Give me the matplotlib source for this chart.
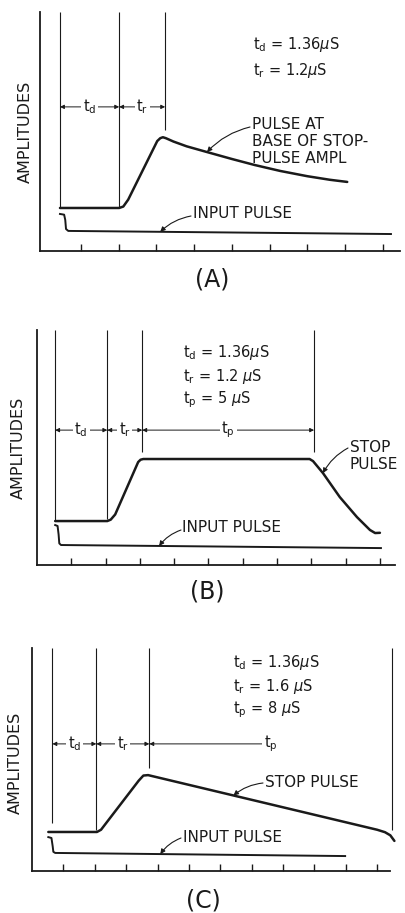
import numpy as np
import matplotlib.pyplot as plt

W, H = 406, 913
ink = "#1a1a1a"

# time in scale divisions, amplitude 0-10 (top of the axis)
a_stop_x = [0.44, 2.01, 2.12, 2.25, 3.02, 3.10, 3.17, 3.25, 3.45, 3.80, 4.34, 5.00, 5.60, 6.28, 7.00, 7.60, 8.06]
a_stop_y = [1.80, 1.80, 1.86, 2.15, 4.60, 4.72, 4.76, 4.72, 4.58, 4.38, 4.14, 3.85, 3.60, 3.35, 3.13, 2.98, 2.89]
a_input_x = [0.44, 0.55, 0.58, 0.60, 0.66, 9.22]
a_input_y = [1.55, 1.52, 1.30, 0.92, 0.84, 0.71]
a_guides_x = [0.44, 2.01, 3.23]
a_guides_bottom = [1.80, 1.80, 5.06]
a_params = [r"t$_{\rm d}$ = 1.36$\mu$S", r"t$_{\rm r}$ = 1.2$\mu$S"]

b_stop_x = [0.53, 2.05, 2.15, 2.28, 2.95, 3.02, 3.10, 7.95, 8.05, 8.34, 8.83, 9.33, 9.71, 9.86, 10.00]
b_stop_y = [1.87, 1.87, 1.93, 2.15, 4.38, 4.48, 4.51, 4.51, 4.42, 3.91, 2.89, 2.04, 1.49, 1.36, 1.37]
b_input_x = [0.53, 0.60, 0.63, 0.65, 0.70, 10.03]
b_input_y = [1.70, 1.66, 1.30, 0.92, 0.85, 0.72]
b_guides_x = [0.53, 2.05, 3.07, 8.08]
b_guides_bottom = [1.87, 1.95, 4.80, 4.80]
b_params = [r"t$_{\rm d}$ = 1.36$\mu$S", r"t$_{\rm r}$ = 1.2 $\mu$S", r"t$_{\rm p}$ = 5 $\mu$S"]

c_stop_x = [0.52, 2.07, 2.20, 3.40, 3.55, 3.70, 11.00, 11.25, 11.42, 11.55]
c_stop_y = [1.75, 1.75, 1.85, 4.05, 4.28, 4.30, 1.85, 1.74, 1.60, 1.35]
c_input_x = [0.52, 0.62, 0.66, 0.68, 0.74, 9.98]
c_input_y = [1.52, 1.48, 1.10, 0.86, 0.81, 0.67]
c_guides_x = [0.65, 2.05, 3.74, 11.48]
c_guides_bottom = [2.15, 1.84, 4.62, 1.84]
c_params = [r"t$_{\rm d}$ = 1.36$\mu$S", r"t$_{\rm r}$ = 1.6 $\mu$S", r"t$_{\rm p}$ = 8 $\mu$S"]

span_labels = [r"t$_{\rm d}$", r"t$_{\rm r}$", r"t$_{\rm p}$"]


def fpx(x, y):
    return (x / W, 1 - y / H)


def add_ax(fig, left, top, right, bottom, xlim, nticks):
    ax = fig.add_axes([left / W, 1 - bottom / H, (right - left) / W, (bottom - top) / H])
    ax.set_xlim(*xlim)
    ax.set_ylim(0, 10)
    ax.set_xticks(range(1, nticks + 1))
    ax.set_yticks([])
    ax.tick_params(axis="x", direction="in", length=5, width=1, color=ink, labelbottom=False)
    for s in ["top", "right"]:
        ax.spines[s].set_visible(False)
    for s in ["left", "bottom"]:
        ax.spines[s].set_linewidth(1.3)
        ax.spines[s].set_color(ink)
    ax.patch.set_alpha(0)
    return ax


def draw_panel(ax, stop_x, stop_y, input_x, input_y, guides_x, guides_bottom, dim_y):
    ax.plot(stop_x, stop_y, color=ink, lw=1.8, solid_capstyle="round", solid_joinstyle="round",
            clip_on=False)
    ax.plot(input_x, input_y, color=ink, lw=1.4, solid_joinstyle="round", clip_on=False)
    ax.vlines(guides_x, guides_bottom, 10, color=ink, lw=0.8, clip_on=False)
    for i in range(len(guides_x) - 1):
        a, b = guides_x[i], guides_x[i + 1]
        m = (a + b) / 2
        for end in (a, b):
            ax.annotate("", xy=(end, dim_y), xytext=(m, dim_y),
                        arrowprops=dict(arrowstyle="-|>", lw=0.7, color=ink,
                                        mutation_scale=6, shrinkA=0, shrinkB=0))
        ax.text(m, dim_y, span_labels[i], ha="center", va="center", fontsize=10.5, color=ink,
                bbox=dict(fc="white", ec="none", pad=1.2), zorder=5)


def leader(ax, text_px, x, cx, cy, rad=0.15):
    ax.annotate("", xy=(x, np.interp(x, cx, cy)), xycoords="data",
                xytext=fpx(*text_px), textcoords="figure fraction",
                arrowprops=dict(arrowstyle="-|>", lw=0.8, color=ink, mutation_scale=7,
                                shrinkA=0, shrinkB=0, connectionstyle=f"arc3,rad={rad}"))


fig = plt.figure(figsize=(W / 100, H / 100), dpi=100)
fig.patch.set_facecolor("white")

lab = 11
amp = 11.5
big = 17

# panel A
ax = add_ax(fig, 40, 12, 400, 251, (-0.09, 9.46), 9)
draw_panel(ax, a_stop_x, a_stop_y, a_input_x, a_input_y, a_guides_x, a_guides_bottom, 6.03)
for i, t in enumerate(a_params):
    fig.text(*fpx(253, 45 + 25 * i), t, fontsize=10.5, va="center", color=ink)
fig.text(*fpx(252, 117), "PULSE AT\nBASE OF STOP-\nPULSE AMPL", fontsize=lab, va="top",
         linespacing=1.17, color=ink)
leader(ax, (250, 127), 4.34, a_stop_x, a_stop_y)
fig.text(*fpx(193, 214), "INPUT PULSE", fontsize=lab, va="center", color=ink)
leader(ax, (191, 216), 3.10, a_input_x, a_input_y)
fig.text(*fpx(25, 132), "AMPLITUDES", fontsize=amp, rotation=90, ha="center", va="center", color=ink)
fig.text(*fpx(212, 279), "(A)", fontsize=big, ha="center", va="center", color=ink)

# panel B
ax = add_ax(fig, 37, 330, 395, 565, (0.0, 10.44), 10)
draw_panel(ax, b_stop_x, b_stop_y, b_input_x, b_input_y, b_guides_x, b_guides_bottom, 5.74)
for i, t in enumerate(b_params):
    fig.text(*fpx(183, 353 + 23.5 * i), t, fontsize=10.5, va="center", color=ink,
             bbox=dict(fc="white", ec="none", pad=0.5))
fig.text(*fpx(350, 456), "STOP\nPULSE", fontsize=lab, va="center", linespacing=1.1, color=ink)
leader(ax, (348, 448), 8.34, b_stop_x, b_stop_y)
fig.text(*fpx(182, 528), "INPUT PULSE", fontsize=lab, va="center", color=ink)
leader(ax, (181, 530), 3.56, b_input_x, b_input_y)
fig.text(*fpx(18, 448), "AMPLITUDES", fontsize=amp, rotation=90, ha="center", va="center", color=ink)
fig.text(*fpx(207, 591), "(B)", fontsize=big, ha="center", va="center", color=ink)

# panel C
ax = add_ax(fig, 32, 648, 390, 871, (0.0, 11.41), 11)
draw_panel(ax, c_stop_x, c_stop_y, c_input_x, c_input_y, c_guides_x, c_guides_bottom, 5.70)
for i, t in enumerate(c_params):
    fig.text(*fpx(233, 662 + 24 * i), t, fontsize=10.5, va="center", color=ink)
fig.text(*fpx(265, 782), "STOP PULSE", fontsize=lab, va="center", color=ink)
leader(ax, (263, 783), 6.42, c_stop_x, c_stop_y)
fig.text(*fpx(183, 837), "INPUT PULSE", fontsize=lab, va="center", color=ink)
leader(ax, (181, 838), 4.09, c_input_x, c_input_y)
fig.text(*fpx(15, 763), "AMPLITUDES", fontsize=amp, rotation=90, ha="center", va="center", color=ink)
fig.text(*fpx(203, 900), "(C)", fontsize=big, ha="center", va="center", color=ink)

fig.savefig("out.png", dpi=100, facecolor="white")
